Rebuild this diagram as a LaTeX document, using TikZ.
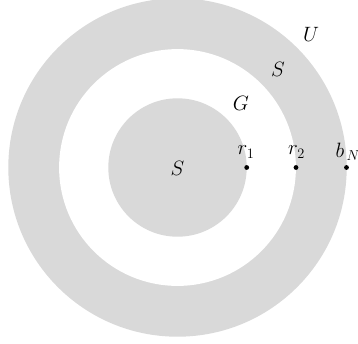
\documentclass[tikz,border=0pt]{standalone}
\begin{document}
\begin{tikzpicture}[x=1pt,y=-1pt,
  ring/.style={fill=gray!30,draw=none},
  hole/.style={fill=white,draw=none},
  dotpt/.style={circle,fill=black,inner sep=0pt,minimum size=4.8pt},
  lbl/.style={inner sep=0pt,font=\fontsize{21.5}{25}\selectfont}]
\useasboundingbox (0,0) rectangle (358,343);
\coordinate (c) at (177.5,167.5);
\fill[ring] (c) circle (169.2);
\fill[hole] (c) circle (118.4);
\fill[ring] (c) circle (69.2);
\node[dotpt] (p1) at (246.7,167.5) {};
\node[dotpt] (p2) at (296,167.5) {};
\node[dotpt] (p3) at (346.5,167.5) {};
\node[lbl] (l1) at (246,152) {$r_1$};
\node[lbl] (l2) at (296.5,152) {$r_2$};
\node[lbl,anchor=west] (l3) at (335.5,152) {$b_{\mkern3mu N}$};
\node[lbl] (s0) at (177.5,168) {$S$};
\node[lbl] (g) at (241,103) {$G$};
\node[lbl] (s1) at (278,69) {$S$};
\node[lbl] (u) at (311,34) {$U$};
\end{tikzpicture}
\end{document}
